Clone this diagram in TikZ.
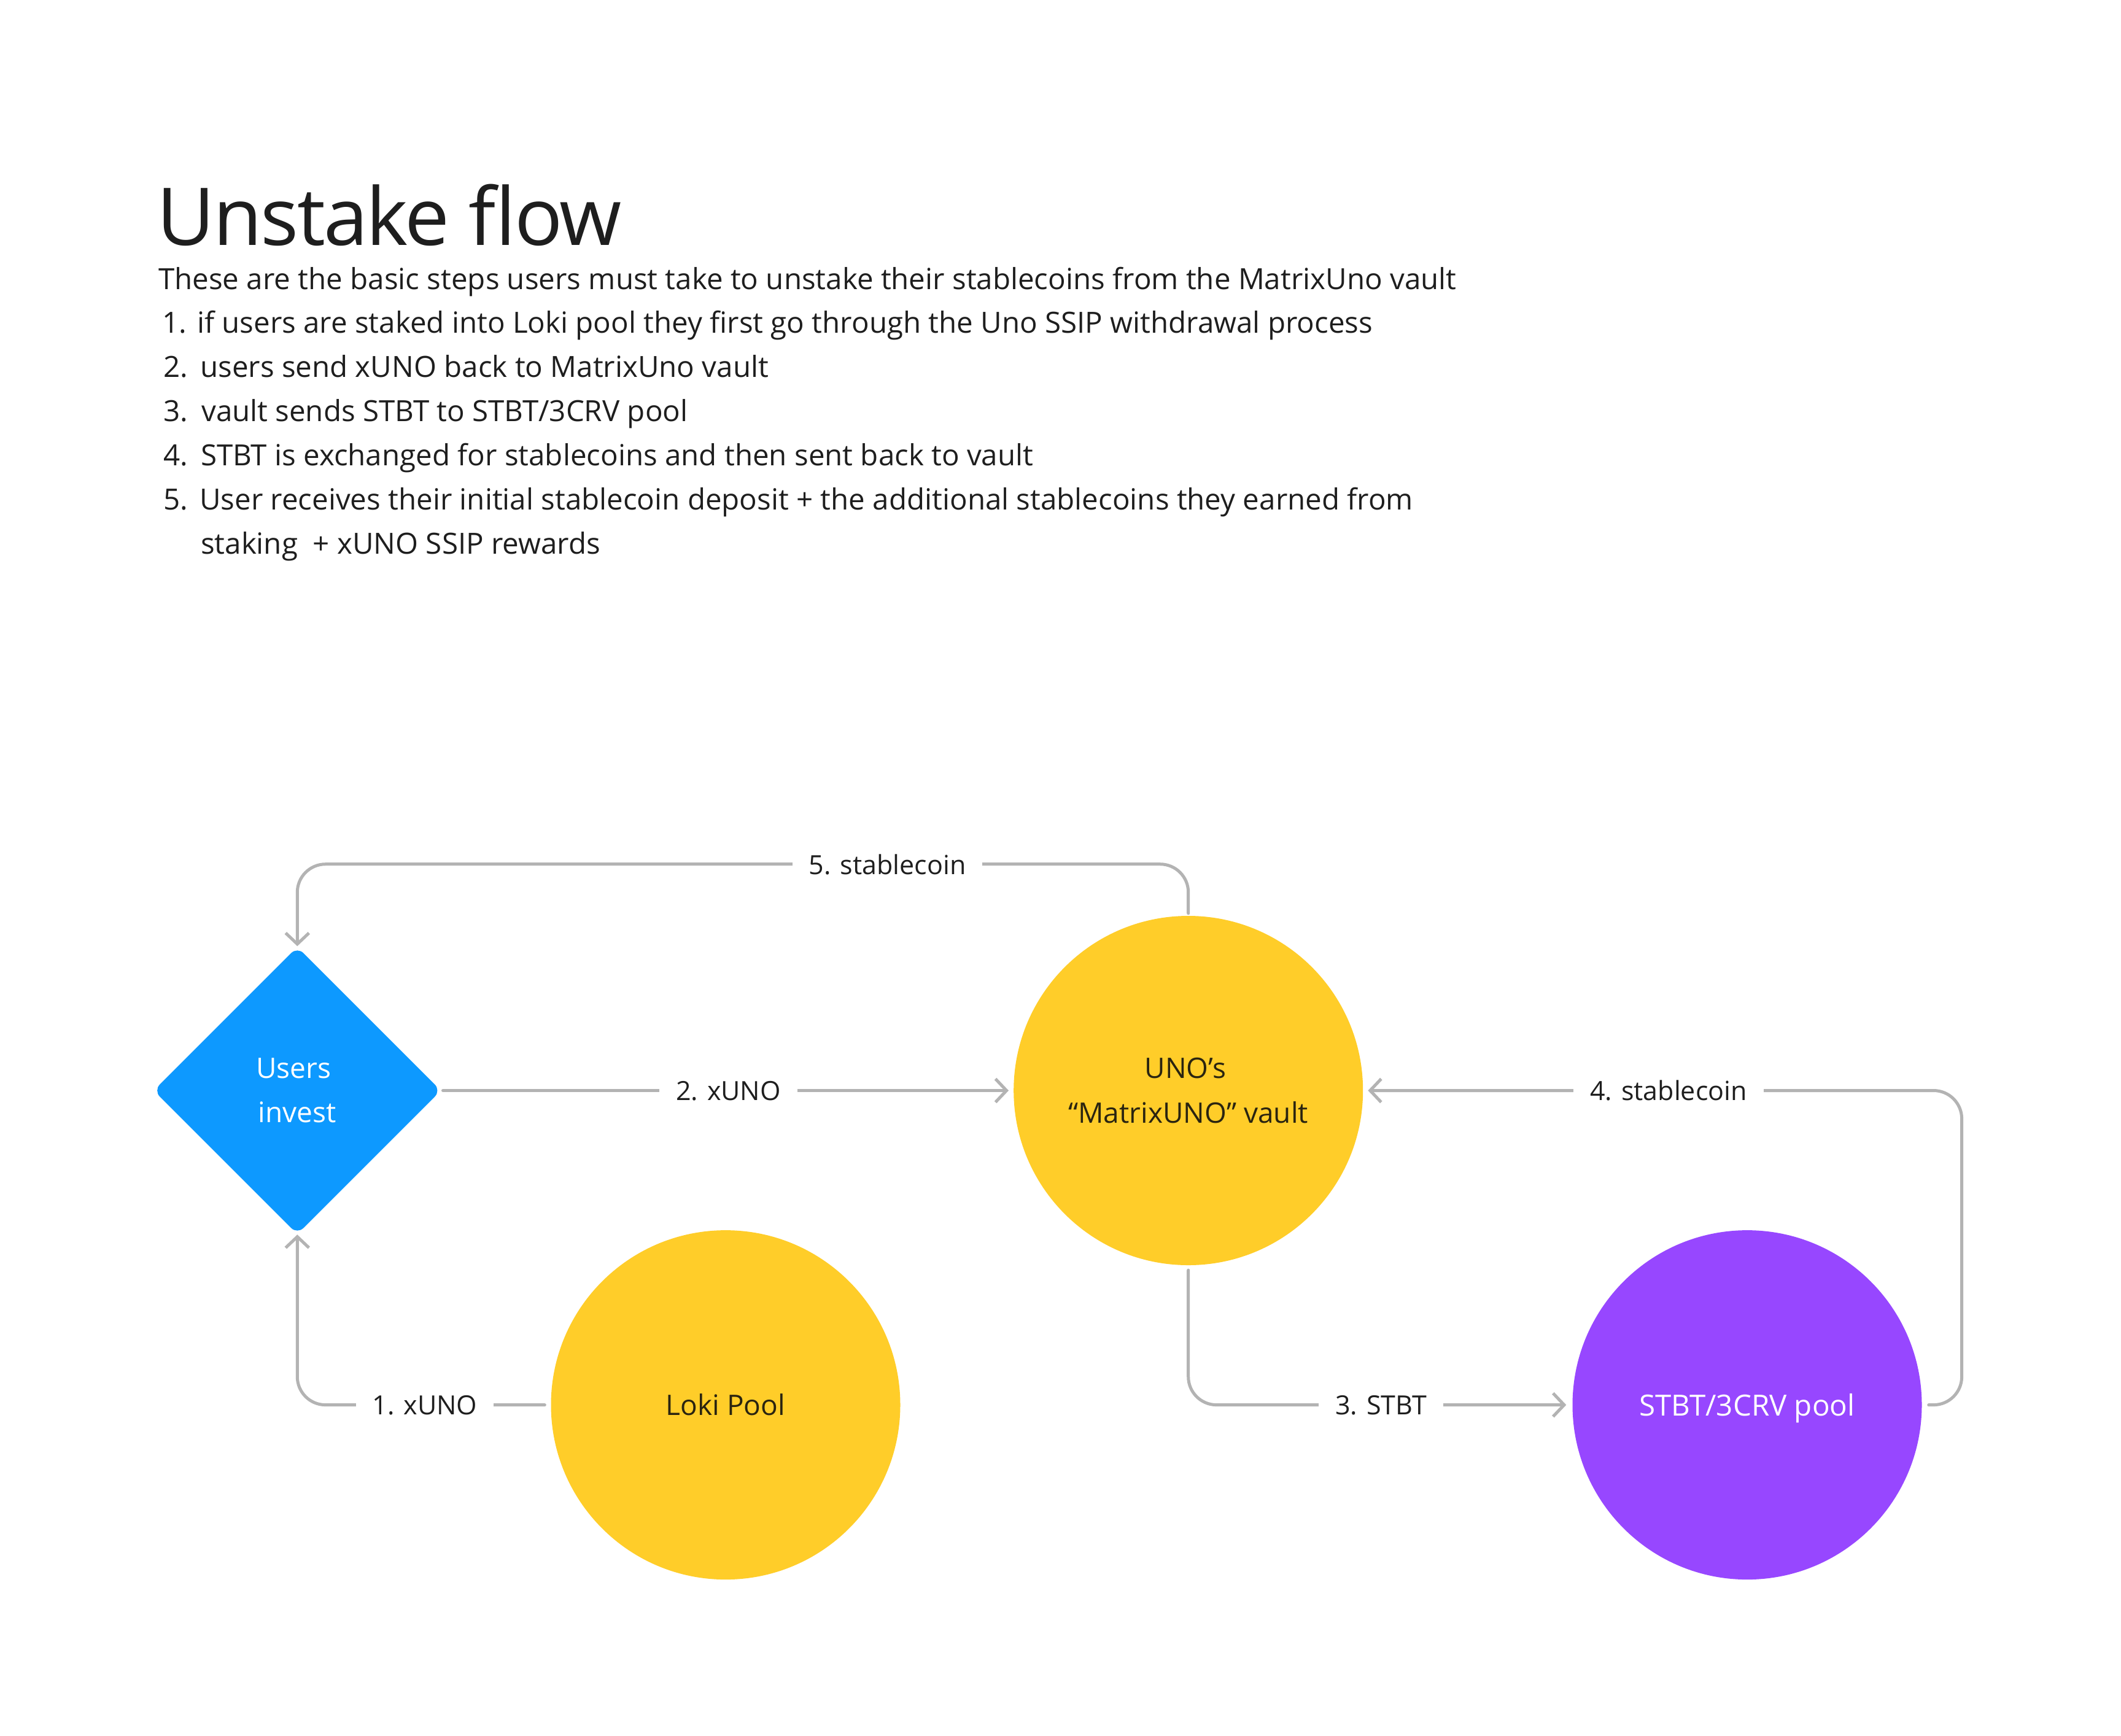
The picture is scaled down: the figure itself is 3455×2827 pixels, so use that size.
\documentclass[tikz,border=0pt]{standalone}
\usepackage{fontspec}
\setmainfont{Open Sans}
\newfontfamily\titlefont[LetterSpace=-2.0]{Open Sans}
\usetikzlibrary{arrows.meta,shapes.geometric}
\definecolor{ink}{HTML}{1E1E1E}
\definecolor{figyellow}{HTML}{FFCD29}
\definecolor{figblue}{HTML}{0D99FF}
\definecolor{figpurple}{HTML}{9747FF}
\definecolor{conngray}{HTML}{B3B3B3}
\definecolor{darktext}{HTML}{2A2410}
\begin{document}
\begin{tikzpicture}[x=1pt,y=-1pt,
  conn/.style={draw=conngray,line width=5pt,line cap=round,line join=round,rounded corners=46pt},
  tipend/.style={-{Straight Barb[length=18pt,width=38pt]}},
  lbl/.style={fill=white,text=ink,font=\fontsize{43}{50}\selectfont,inner xsep=27pt,inner ysep=4pt,text depth=0pt},
  pool/.style={circle,minimum size=569pt,inner sep=0pt,font=\fontsize{46}{72.3}\selectfont,align=center},
  txt/.style={anchor=base west,inner sep=0pt,text=ink},
  body/.style={txt,font=\fontsize{47.5}{52}\selectfont}
]
\fill[white] (0,0) rectangle (3455,2827);
\useasboundingbox (0,0) rectangle (3455,2827);

% heading
\node[txt,font=\titlefont\fontsize{130}{140}\selectfont] (title) at (255,399.5) {Unstake flow};
\node[body] (intro) at (258,471.5) {These are the basic steps users must take to unstake their stablecoins from the MatrixUno vault};
\node[body] (n1) at (264,542.5) {1.};
\node[body] (t1) at (321,542.5) {if users are staked into Loki pool they first go through the Uno SSIP withdrawal process};
\node[body] (n2) at (266,614) {2.};
\node[body] (t2) at (326,614) {users send xUNO back to MatrixUno vault};
\node[body] (n3) at (266,686) {3.};
\node[body] (t3) at (328,686) {vault sends STBT to STBT/3CRV pool};
\node[body] (n4) at (266,758) {4.};
\node[body] (t4) at (327,758) {STBT is exchanged for stablecoins and then sent back to vault};
\node[body] (n5) at (266,830) {5.};
\node[body] (t5) at (325,830) {User receives their initial stablecoin deposit + the additional stablecoins they earned from};
\node[body] (t5b) at (327,902) {staking\ \ + xUNO SSIP rewards};

% nodes
\node[diamond,aspect=1,fill=figblue,rounded corners=14pt,minimum width=468pt,minimum height=468pt,
      inner sep=0pt,text=white,align=center,font=\fontsize{46}{72.3}\selectfont] (users) at (484.3,1776.5) {Users\kern12pt\\invest};
\node[pool,fill=figyellow,text=darktext] (vault) at (1935.7,1776.5) {UNO’s\kern10pt\\“MatrixUNO” vault};
\node[pool,fill=figyellow,text=darktext] (loki) at (1182,2288.6) {Loki Pool};
\node[pool,fill=figpurple,text=white,text depth=0pt,font=\fontsize{47.5}{72.3}\selectfont] (stbt) at (2846,2288.6) {STBT/3CRV pool};

\coordinate (c5) at (0,1407.7);
\coordinate (c4) at (3195.6,0);

% connectors
\draw[conn,tipend,shorten <=4pt,shorten >=1pt] (vault.north) -- (vault.north |- c5) -| (users.north);
\draw[conn,tipend,shorten <=3pt,shorten >=8pt] (users.east) -- (vault.west);
\draw[conn,tipend,shorten <=11pt,shorten >=8pt] (stbt.east) -| (c4 |- vault.east) -- (vault.east);
\draw[conn,tipend,shorten <=8pt,shorten >=10pt] (vault.south) |- (stbt.west);
\draw[conn,tipend,shorten <=10pt,shorten >=0.5pt] (loki.west) -| (users.south);

% connector labels
\node[lbl] (l5) at (1445.6,1407.7) {5. stablecoin};
\node[lbl] (l2) at (1186.5,1776.5) {2. xUNO};
\node[lbl] (l4) at (2718,1776.5) {4. stablecoin};
\node[lbl] (l3) at (2249.6,2288.6) {3. STBT};
\node[lbl] (l1) at (692,2288.6) {1. xUNO};
\end{tikzpicture}
\end{document}
